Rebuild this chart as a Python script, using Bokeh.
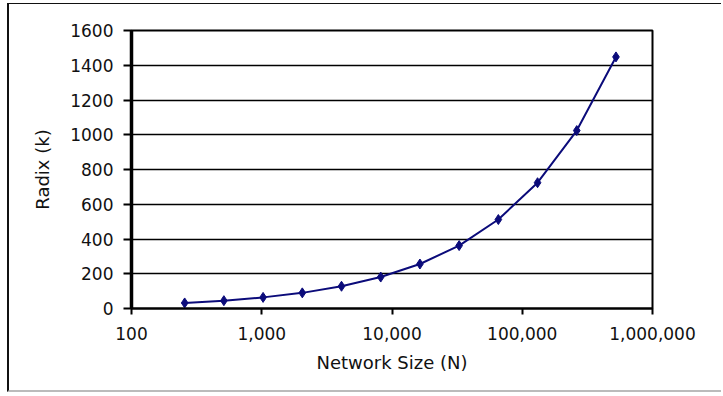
from bokeh.plotting import figure
from bokeh.models import NumeralTickFormatter, FixedTicker, Range1d
from bokeh.embed import file_html
from bokeh.resources import INLINE

# Network size N and the switch radix k needed at that size
network_size = [256, 512, 1024, 2048, 4096, 8192, 16384, 32768, 65536, 131072, 262144, 524288]
radix = [32, 45, 64, 90, 128, 181, 256, 362, 512, 724, 1024, 1448]

x_ticks = [100, 1000, 10000, 100000, 1000000]
y_ticks = [0, 200, 400, 600, 800, 1000, 1200, 1400, 1600]

FONT = "DejaVu Sans"
NAVY = "#0b0b7a"

p = figure(
    width=714, height=389,
    x_axis_type="log",
    x_range=Range1d(100, 1000000),
    y_range=Range1d(0, 1600),
    output_backend="svg",
    toolbar_location=None,
    min_border_left=122, min_border_right=71,
    min_border_top=26, min_border_bottom=85,
)
# frame drawn around the whole chart
p.styles = {
    "margin-left": "7px",
    "margin-top": "3px",
    "border-left": "2px solid #111111",
    "border-top": "1.5px solid #111111",
    "border-bottom": "2px solid #bbbbbb",
}
p.background_fill_color = "white"
p.border_fill_color = "white"
p.outline_line_color = "black"
p.outline_line_width = 2

# horizontal grid lines only
p.xgrid.visible = False
p.ygrid.ticker = FixedTicker(ticks=y_ticks)
p.ygrid.grid_line_color = "black"
p.ygrid.grid_line_width = 1.6
p.ygrid.grid_line_alpha = 1.0

# x axis (log scale, comma formatted)
p.xaxis.ticker = FixedTicker(ticks=x_ticks)
p.xaxis.formatter = NumeralTickFormatter(format="0,0")
p.xaxis.minor_tick_line_color = None
p.xaxis.major_tick_in = 0
p.xaxis.major_tick_out = 6
p.xaxis.major_tick_line_width = 2
p.xaxis.axis_line_width = 2
p.xaxis.major_label_standoff = 12
p.xaxis.axis_label = "Network Size (N)"
p.xaxis.axis_label_standoff = 9

# y axis
p.yaxis.ticker = FixedTicker(ticks=y_ticks)
p.yaxis.minor_tick_line_color = None
p.yaxis.major_tick_in = 0
p.yaxis.major_tick_out = 8
p.yaxis.major_tick_line_width = 2
p.yaxis.axis_line_width = 3.5
p.yaxis.major_label_standoff = 10
p.yaxis.axis_label = "Radix (k)"
p.yaxis.axis_label_standoff = 14

for ax in (p.xaxis, p.yaxis):
    ax.major_label_text_font = FONT
    ax.major_label_text_font_size = "17px"
    ax.major_label_text_color = "#111111"
    ax.axis_label_text_font = FONT
    ax.axis_label_text_font_size = "18px"
    ax.axis_label_text_font_style = "normal"
    ax.axis_label_text_color = "#111111"
    ax.axis_line_color = "black"
    ax.major_tick_line_color = "black"

# data series
p.line(network_size, radix, line_color=NAVY, line_width=2)
p.scatter(network_size, radix, marker="diamond", size=10,
          fill_color=NAVY, line_color=NAVY)

open("out.html", "w").write(file_html(p, INLINE))
